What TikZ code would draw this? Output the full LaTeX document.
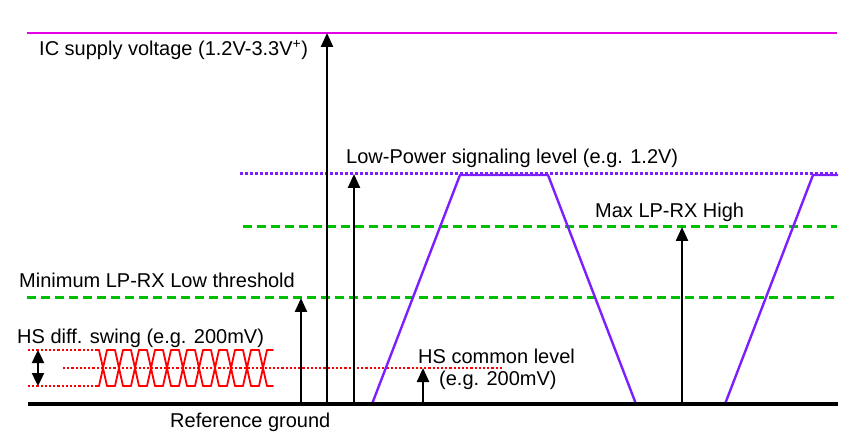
\documentclass[tikz,border=0pt]{standalone}
\usepackage{fontspec}
\setmainfont{Liberation Sans}
\usetikzlibrary{arrows.meta}
\definecolor{supplymag}{RGB}{230,0,230}
\definecolor{lpviolet}{RGB}{125,30,255}
\definecolor{thrgreen}{RGB}{0,190,0}
\definecolor{hsred}{RGB}{255,0,0}
\tikzset{
  lbl/.style={anchor=base west,inner sep=0pt,font=\fontsize{20}{24}\selectfont},
  supplyline/.style={supplymag,line width=2.2pt},
  lpdots/.style={lpviolet,line width=3pt,dash pattern=on 3pt off 2pt},
  thrdash/.style={thrgreen,line width=3pt,dash pattern=on 9pt off 5pt},
  hsdots/.style={hsred,line width=2.2pt,dash pattern=on 2.2pt off 2pt},
  eye/.style={hsred,line width=1.8pt,line cap=round,line join=round},
  ground/.style={black,line width=3.2pt},
  lpwave/.style={lpviolet,line width=2.4pt,line join=round},
  uparrow/.style={black,line width=2.4pt,-{Triangle[width=12pt,length=14pt]}},
  dblarrow/.style={black,line width=2.4pt,{Triangle[width=12pt,length=13pt]}-{Triangle[width=12pt,length=13pt]}},
}
\begin{document}
\begin{tikzpicture}[x=1pt,y=-1pt]
\useasboundingbox (0,0) rectangle (862,438);
% level lines
\coordinate (supL) at (27,33);   \coordinate (supR) at (837,33);
\coordinate (lpL) at (240,174);  \coordinate (lpR) at (837,174);
\coordinate (hiL) at (243,227);  \coordinate (hiR) at (837,227);
\coordinate (loL) at (27,298);   \coordinate (loR) at (837,298);
\coordinate (gndL) at (28,404);  \coordinate (gndR) at (838,404);
\draw[supplyline] (supL) -- (supR);
\draw[lpdots] (lpL) -- (lpR);
\draw[thrdash] (hiL) -- (hiR);
\draw[thrdash] (loL) -- (loR);
% HS levels
\coordinate (hsTL) at (28,350);  \coordinate (hsTR) at (96,350);
\coordinate (hsBL) at (28,386);  \coordinate (hsBR) at (96,386);
\coordinate (hsML) at (63,368);  \coordinate (hsMR) at (502,368);
\draw[hsdots] (hsTL) -- (hsTR);
\draw[hsdots] (hsBL) -- (hsBR);
\draw[hsdots] (hsML) -- (hsMR);
% eye pattern
\draw[eye] (96,350) -- (99,350) (96,386) -- (99,386);
\foreach \i in {0,...,10}{
  \pgfmathsetmacro\c{103+16*\i}
  \draw[eye] (\c-4,350) -- (\c+4,386) (\c-4,386) -- (\c+4,350);
}
\foreach \i in {0,...,9}{
  \pgfmathsetmacro\c{103+16*\i}
  \draw[eye] (\c+4,350) -- (\c+12,350) (\c+4,386) -- (\c+12,386);
}
\draw[eye] (267,350) -- (273,350) (267,386) -- (273,386);
% LP waveform
\coordinate (w0) at (372,404); \coordinate (w1) at (460,175);
\coordinate (w2) at (548,175); \coordinate (w3) at (636,404);
\coordinate (w4) at (725,404); \coordinate (w5) at (813,175);
\coordinate (w6) at (838,175);
\draw[lpwave] (w0) -- (w1) -- (w2) -- (w3) -- (w4) -- (w5) -- (w6);
% ground
\draw[ground] (gndL) -- (gndR);
% arrows
\coordinate (a1b) at (301,404); \coordinate (a1t) at (301,298);
\coordinate (a2b) at (327,404); \coordinate (a2t) at (327,33);
\coordinate (a3b) at (354,404); \coordinate (a3t) at (354,174);
\coordinate (a4b) at (423,404); \coordinate (a4t) at (423,368);
\coordinate (a5b) at (682,404); \coordinate (a5t) at (682,227);
\draw[uparrow] (a1b) -- (a1t);
\draw[uparrow] (a2b) -- (a2t);
\draw[uparrow] (a3b) -- (a3t);
\draw[uparrow] (a4b) -- (a4t);
\draw[uparrow] (a5b) -- (a5t);
\coordinate (dT) at (38,350); \coordinate (dB) at (38,386);
\draw[dblarrow] (dT) -- (dB);
% labels
\node[lbl] (tSup) at (39,56) {IC supply voltage (1.2V-3.3V\textsuperscript{+})};
\node[lbl] (tLP) at (346,164) {Low-Power signaling level (e.g. 1.2V)};
\node[lbl] (tHi) at (595,218) {Max LP-RX High};
\node[lbl] (tLo) at (19,288) {Minimum LP-RX Low threshold};
\node[lbl] (tHSd) at (17,343) {HS diff. swing (e.g. 200mV)};
\node[lbl] (tHSc) at (418,363) {HS common level};
\node[lbl] (tHSe) at (439,385) {(e.g. 200mV)};
\node[lbl] (tGnd) at (170,427) {Reference ground};
\end{tikzpicture}
\end{document}
